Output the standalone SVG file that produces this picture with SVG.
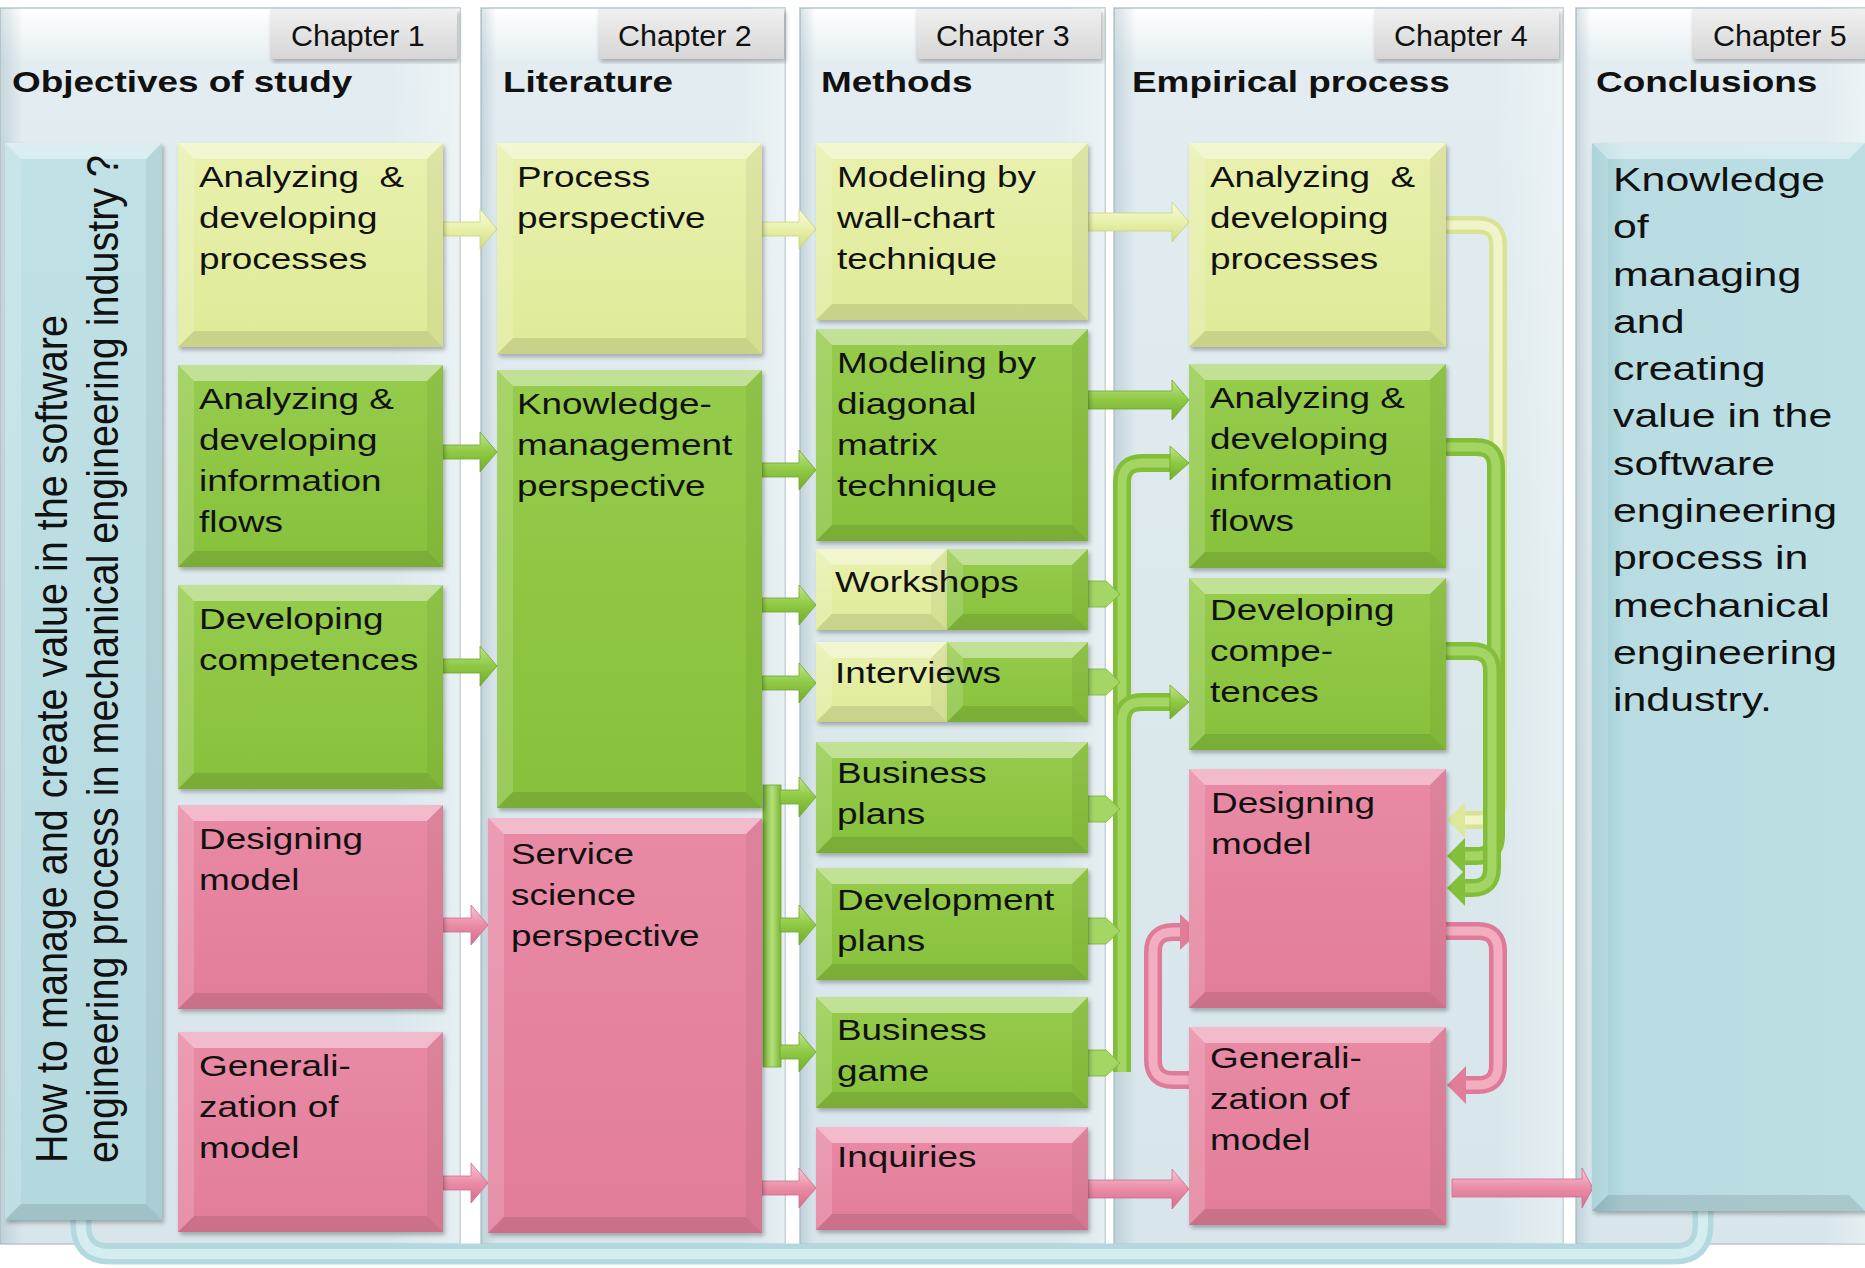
<svg xmlns="http://www.w3.org/2000/svg" width="1865" height="1268" viewBox="0 0 1865 1268">
<defs>
  <linearGradient id="gpan" x1="0" y1="0" x2="0" y2="1">
    <stop offset="0" stop-color="#ffffff"/>
    <stop offset="0.045" stop-color="#e3edf1"/>
    <stop offset="0.5" stop-color="#dbe8ec"/>
    <stop offset="1" stop-color="#d8e6eb"/>
  </linearGradient>
  <linearGradient id="gpanh" x1="0" y1="0" x2="1" y2="0">
    <stop offset="0" stop-color="#8fa9b3" stop-opacity="0.35"/>
    <stop offset="0.05" stop-color="#8fa9b3" stop-opacity="0"/>
    <stop offset="0.85" stop-color="#ffffff" stop-opacity="0"/>
    <stop offset="1" stop-color="#ffffff" stop-opacity="0.35"/>
  </linearGradient>
  <linearGradient id="gtab" x1="0" y1="0" x2="0" y2="1">
    <stop offset="0" stop-color="#f0f0f0"/>
    <stop offset="1" stop-color="#d6d6d6"/>
  </linearGradient>
  <linearGradient id="gy" x1="0" y1="0" x2="0" y2="1">
    <stop offset="0" stop-color="#e9f1ae"/>
    <stop offset="1" stop-color="#dfea98"/>
  </linearGradient>
  <linearGradient id="gg" x1="0" y1="0" x2="0" y2="1">
    <stop offset="0" stop-color="#96cc4c"/>
    <stop offset="1" stop-color="#87c13b"/>
  </linearGradient>
  <linearGradient id="gp" x1="0" y1="0" x2="0" y2="1">
    <stop offset="0" stop-color="#e98aa5"/>
    <stop offset="1" stop-color="#e27d99"/>
  </linearGradient>
  <linearGradient id="gt" x1="0" y1="0" x2="0" y2="1">
    <stop offset="0" stop-color="#c0e1e6"/>
    <stop offset="1" stop-color="#b3d8de"/>
  </linearGradient>
  <linearGradient id="gt5" x1="0" y1="0" x2="1" y2="0">
    <stop offset="0" stop-color="#9ccbd2"/>
    <stop offset="0.12" stop-color="#b8dce1"/>
    <stop offset="1" stop-color="#bcdfe4"/>
  </linearGradient>
  <linearGradient id="ay" x1="0" y1="0" x2="0" y2="1">
    <stop offset="0" stop-color="#f7fadb"/>
    <stop offset="0.5" stop-color="#e9f1ac"/>
    <stop offset="1" stop-color="#cfda7f"/>
  </linearGradient>
  <linearGradient id="ag" x1="0" y1="0" x2="0" y2="1">
    <stop offset="0" stop-color="#bfe58a"/>
    <stop offset="0.5" stop-color="#8fc944"/>
    <stop offset="1" stop-color="#73ab2f"/>
  </linearGradient>
  <linearGradient id="agh" x1="0" y1="0" x2="1" y2="0">
    <stop offset="0" stop-color="#73ab2f"/>
    <stop offset="0.5" stop-color="#b5e07c"/>
    <stop offset="1" stop-color="#7db636"/>
  </linearGradient>
  <linearGradient id="ap" x1="0" y1="0" x2="0" y2="1">
    <stop offset="0" stop-color="#f9c6d4"/>
    <stop offset="0.5" stop-color="#ea8ca7"/>
    <stop offset="1" stop-color="#d46e8b"/>
  </linearGradient>
  <filter id="sh" x="-5%" y="-5%" width="115%" height="115%">
    <feDropShadow dx="2" dy="3" stdDeviation="2" flood-color="#000" flood-opacity="0.28"/>
  </filter>
  <style>
    .pan{fill:url(#gpan);stroke:#b8c8ce;stroke-width:1.5}
    .panh{fill:url(#gpanh)}
    .tab{fill:url(#gtab);filter:url(#sh)}
    .by{fill:url(#gy)} .bg{fill:url(#gg)} .bp{fill:url(#gp)} .bt{fill:url(#gt)} .bt5{fill:url(#gt5)}
    .box{filter:url(#sh)}
    .vt{fill:#fff;opacity:.42} .vl{fill:#fff;opacity:.16} .vr{fill:#000;opacity:.05} .vb{fill:#000;opacity:.1}
    .lb{font-family:"Liberation Sans",Arial,sans-serif;font-size:30px;fill:#111}
    .hd{font-family:"Liberation Sans",Arial,sans-serif;font-size:30px;font-weight:bold;fill:#111}
    .ch{font-family:"Liberation Sans",Arial,sans-serif;font-size:29px;fill:#111}
    .cn{font-family:"Liberation Sans",Arial,sans-serif;font-size:33.5px;fill:#111}
    .q{font-family:"Liberation Sans",Arial,sans-serif;font-size:36px;fill:#111}
    .pre{white-space:pre}
    .ay{fill:url(#ay);stroke:#c9d47c;stroke-width:.8}
    .ag{fill:url(#ag);stroke:#6fa52d;stroke-width:.8}
    .ap{fill:url(#ap);stroke:#d06c89;stroke-width:.8}
    .ly{fill:none;stroke:#d8e493;stroke-width:18}
    .lyh{fill:none;stroke:#eff5c8;stroke-width:9}
    .lg{fill:none;stroke:#82be39;stroke-width:18}
    .lgh{fill:none;stroke:#a3d564;stroke-width:9}
    .lp{fill:none;stroke:#df7b98;stroke-width:18}
    .lph{fill:none;stroke:#f2adc0;stroke-width:9}
    .lt{fill:none;stroke:#b3d9df;stroke-width:21}
    .lth{fill:none;stroke:#d4edf0;stroke-width:10}
    .hy{fill:#dde89a} .hg{fill:#84bf3b} .hp{fill:#e07d99} .ht{fill:#b3d9df}
    .stub{fill:#a3d664;stroke:#79b234;stroke-width:.8}
  </style>
</defs>

<rect width="1865" height="1268" fill="#ffffff"/>

<!-- chapter panels -->
<g id="panels">
  <rect class="pan" x="0" y="8" width="460" height="1236"/>
  <rect class="panh" x="0" y="8" width="460" height="1236"/>
  <rect class="pan" x="481" y="8" width="304" height="1236"/>
  <rect class="panh" x="481" y="8" width="304" height="1236"/>
  <rect class="pan" x="800" y="8" width="305" height="1236"/>
  <rect class="panh" x="800" y="8" width="305" height="1236"/>
  <rect class="pan" x="1114" y="8" width="449" height="1236"/>
  <rect class="panh" x="1114" y="8" width="449" height="1236"/>
  <rect class="pan" x="1576" y="8" width="292" height="1236"/>
  <rect class="panh" x="1576" y="8" width="292" height="1236"/>
</g>

<!-- chapter tabs and column headings -->
<g id="headers">
  <rect class="tab" x="270" y="9" width="187" height="50"/>
  <rect class="tab" x="598" y="9" width="186" height="50"/>
  <rect class="tab" x="916" y="9" width="185" height="50"/>
  <rect class="tab" x="1374" y="9" width="185" height="50"/>
  <rect class="tab" x="1692" y="9" width="176" height="50"/>
  <text class="ch" transform="matrix(1.05 0 0 1 291 46)">Chapter 1</text>
  <text class="ch" transform="matrix(1.05 0 0 1 618 46)">Chapter 2</text>
  <text class="ch" transform="matrix(1.05 0 0 1 936 46)">Chapter 3</text>
  <text class="ch" transform="matrix(1.05 0 0 1 1394 46)">Chapter 4</text>
  <text class="ch" transform="matrix(1.05 0 0 1 1713 46)">Chapter 5</text>
  <text class="hd" transform="matrix(1.23 0 0 1 12 92)">Objectives of study</text>
  <text class="hd" transform="matrix(1.23 0 0 1 503 92)">Literature</text>
  <text class="hd" transform="matrix(1.23 0 0 1 821 92)">Methods</text>
  <text class="hd" transform="matrix(1.23 0 0 1 1132 92)">Empirical process</text>
  <text class="hd" transform="matrix(1.23 0 0 1 1596 92)">Conclusions</text>
</g>

<!-- connectors -->
<g id="connectors">
  <!-- return arrow along the bottom -->
  <path class="lt" d="M1703,1206 V1225 Q1703,1254 1674,1254 H110 Q81,1254 81,1225 V1212"/>
  <path class="lth" d="M1703,1206 V1225 Q1703,1254 1674,1254 H110 Q81,1254 81,1225 V1212"/>
  <polygon class="ht" points="56,1218 81,1192 106,1218"/>

  <!-- chapter 1 to chapter 2 -->
  <polygon class="ay" points="443,222 480,222 480,209 497,229 480,249 480,236 443,236"/>
  <polygon class="ag" points="443,445 480,445 480,432 497,452 480,472 480,459 443,459"/>
  <polygon class="ag" points="443,659 480,659 480,646 497,666 480,686 480,673 443,673"/>
  <polygon class="ap" points="443,918 471,918 471,905 488,925 471,945 471,932 443,932"/>
  <polygon class="ap" points="443,1176 471,1176 471,1163 488,1183 471,1203 471,1190 443,1190"/>

  <!-- chapter 2 to chapter 3 -->
  <polygon class="ay" points="762,222 799,222 799,209 816,229 799,249 799,236 762,236"/>
  <polygon class="ag" points="762,463 799,463 799,450 816,470 799,490 799,477 762,477"/>
  <polygon class="ag" points="762,598 799,598 799,585 816,605 799,625 799,612 762,612"/>
  <polygon class="ag" points="762,676 799,676 799,663 816,683 799,703 799,690 762,690"/>
  <rect x="763" y="785" width="18" height="282" fill="url(#agh)" stroke="#6fa52d" stroke-width=".8"/>
  <polygon class="ag" points="780,790 799,790 799,777 816,797 799,817 799,804 780,804"/>
  <polygon class="ag" points="780,918 799,918 799,905 816,925 799,945 799,932 780,932"/>
  <polygon class="ag" points="780,1045 799,1045 799,1032 816,1052 799,1072 799,1059 780,1059"/>
  <polygon class="ap" points="762,1181 799,1181 799,1168 816,1188 799,1208 799,1195 762,1195"/>

  <!-- chapter 3 to chapter 4 -->
  <polygon class="ay" points="1088,213 1172,213 1172,202 1189,222 1172,242 1172,231 1088,231"/>
  <polygon class="ag" points="1088,391 1172,391 1172,380 1189,400 1172,420 1172,409 1088,409"/>
  <path class="lg" d="M1122,1072 V483 Q1122,463 1142,463 H1174"/>
  <path class="lgh" d="M1122,1072 V483 Q1122,463 1142,463 H1174"/>
  <path class="lg" d="M1122,722 Q1122,702 1142,702 H1174"/>
  <path class="lgh" d="M1122,722 Q1122,702 1142,702 H1174"/>
  <polygon class="ag" points="1170,446 1189,463 1170,480"/>
  <polygon class="ag" points="1170,685 1189,702 1170,719"/>
  <polygon class="stub" points="1088,581 1106,581 1120,594 1106,607 1088,607"/>
  <polygon class="stub" points="1088,669 1106,669 1120,682 1106,695 1088,695"/>
  <polygon class="stub" points="1088,796 1106,796 1120,809 1106,822 1088,822"/>
  <polygon class="stub" points="1088,918 1106,918 1120,931 1106,944 1088,944"/>
  <polygon class="stub" points="1088,1050 1106,1050 1120,1063 1106,1076 1088,1076"/>
  <polygon class="ap" points="1088,1180 1172,1180 1172,1169 1189,1189 1172,1209 1172,1198 1088,1198"/>

  <!-- loops inside chapter 4 -->
  <path class="ly" d="M1446,225 H1478 Q1498,225 1498,245 V800 Q1498,820 1478,820 H1462"/>
  <path class="lyh" d="M1446,225 H1478 Q1498,225 1498,245 V800 Q1498,820 1478,820 H1462"/>
  <polygon class="hy" points="1465,802 1447,820 1465,838"/>
  <path class="lg" d="M1446,447 H1476 Q1496,447 1496,467 V836 Q1496,856 1476,856 H1462"/>
  <path class="lgh" d="M1446,447 H1476 Q1496,447 1496,467 V836 Q1496,856 1476,856 H1462"/>
  <polygon class="hg" points="1465,838 1447,856 1465,874"/>
  <path class="lg" d="M1446,651 H1472 Q1492,651 1492,671 V868 Q1492,888 1472,888 H1462"/>
  <path class="lgh" d="M1446,651 H1472 Q1492,651 1492,671 V868 Q1492,888 1472,888 H1462"/>
  <polygon class="hg" points="1465,870 1447,888 1465,906"/>
  <path class="lp" d="M1446,931 H1478 Q1498,931 1498,951 V1065 Q1498,1085 1478,1085 H1463"/>
  <path class="lph" d="M1446,931 H1478 Q1498,931 1498,951 V1065 Q1498,1085 1478,1085 H1463"/>
  <polygon class="hp" points="1466,1066 1447,1085 1466,1104"/>
  <path class="lp" d="M1189,1080 H1173 Q1153,1080 1153,1060 V952 Q1153,932 1173,932 H1183"/>
  <path class="lph" d="M1189,1080 H1173 Q1153,1080 1153,1060 V952 Q1153,932 1173,932 H1183"/>
  <polygon class="hp" points="1180,914 1199,932 1180,950"/>

  <!-- chapter 4 to chapter 5 -->
  <polygon class="ap" points="1452,1179 1582,1179 1582,1168 1593,1188 1582,1208 1582,1197 1452,1197"/>
</g>

<!-- research question -->
<g id="question">
  <rect class="bt box" x="5" y="143" width="157" height="1077"/>
  <path class="vt" d="M5,143h157l-16,16h-125z"/>
  <path class="vl" d="M5,143l16,16v1045l-16,16z"/>
  <path class="vr" d="M162,143v1077l-16,-16v-1045z"/>
  <path class="vb" d="M5,1220l16,-16h125l16,16z"/>
  <text class="q" transform="translate(67,1163) scale(1.24,1) rotate(-90)" textLength="848" lengthAdjust="spacingAndGlyphs">How to manage and create value in the software</text>
  <text class="q" transform="translate(118,1163) scale(1.24,1) rotate(-90)" textLength="1008" lengthAdjust="spacingAndGlyphs">engineering process in mechanical engineering industry ?</text>
</g>

<!-- chapter 1: objectives -->
<g id="c1-processes">
  <rect class="by box" x="178" y="143" width="265" height="204"/>
  <path class="vt" d="M178,143h265l-16,16h-233z"/>
  <path class="vl" d="M178,143l16,16v172l-16,16z"/>
  <path class="vr" d="M443,143v204l-16,-16v-172z"/>
  <path class="vb" d="M178,347l16,-16h233l16,16z"/>
  <text class="lb pre" transform="matrix(1.23 0 0 1 199 187)"><tspan x="0" y="0">Analyzing  &amp;</tspan><tspan x="0" y="41">developing</tspan><tspan x="0" y="82">processes</tspan></text>
</g>
<g id="c1-information">
  <rect class="bg box" x="178" y="365" width="265" height="202"/>
  <path class="vt" d="M178,365h265l-16,16h-233z"/>
  <path class="vl" d="M178,365l16,16v170l-16,16z"/>
  <path class="vr" d="M443,365v202l-16,-16v-170z"/>
  <path class="vb" d="M178,567l16,-16h233l16,16z"/>
  <text class="lb" transform="matrix(1.23 0 0 1 199 409)"><tspan x="0" y="0">Analyzing &amp;</tspan><tspan x="0" y="41">developing</tspan><tspan x="0" y="82">information</tspan><tspan x="0" y="123">flows</tspan></text>
</g>
<g id="c1-competences">
  <rect class="bg box" x="178" y="585" width="265" height="204"/>
  <path class="vt" d="M178,585h265l-16,16h-233z"/>
  <path class="vl" d="M178,585l16,16v172l-16,16z"/>
  <path class="vr" d="M443,585v204l-16,-16v-172z"/>
  <path class="vb" d="M178,789l16,-16h233l16,16z"/>
  <text class="lb" transform="matrix(1.23 0 0 1 199 629)"><tspan x="0" y="0">Developing</tspan><tspan x="0" y="41">competences</tspan></text>
</g>
<g id="c1-designing">
  <rect class="bp box" x="178" y="805" width="265" height="204"/>
  <path class="vt" d="M178,805h265l-16,16h-233z"/>
  <path class="vl" d="M178,805l16,16v172l-16,16z"/>
  <path class="vr" d="M443,805v204l-16,-16v-172z"/>
  <path class="vb" d="M178,1009l16,-16h233l16,16z"/>
  <text class="lb" transform="matrix(1.23 0 0 1 199 849)"><tspan x="0" y="0">Designing</tspan><tspan x="0" y="41">model</tspan></text>
</g>
<g id="c1-generalization">
  <rect class="bp box" x="178" y="1032" width="265" height="200"/>
  <path class="vt" d="M178,1032h265l-16,16h-233z"/>
  <path class="vl" d="M178,1032l16,16v168l-16,16z"/>
  <path class="vr" d="M443,1032v200l-16,-16v-168z"/>
  <path class="vb" d="M178,1232l16,-16h233l16,16z"/>
  <text class="lb" transform="matrix(1.23 0 0 1 199 1076)"><tspan x="0" y="0">Generali-</tspan><tspan x="0" y="41">zation of</tspan><tspan x="0" y="82">model</tspan></text>
</g>

<!-- chapter 2: literature -->
<g id="c2-process">
  <rect class="by box" x="497" y="143" width="265" height="211"/>
  <path class="vt" d="M497,143h265l-16,16h-233z"/>
  <path class="vl" d="M497,143l16,16v179l-16,16z"/>
  <path class="vr" d="M762,143v211l-16,-16v-179z"/>
  <path class="vb" d="M497,354l16,-16h233l16,16z"/>
  <text class="lb" transform="matrix(1.23 0 0 1 517 187)"><tspan x="0" y="0">Process</tspan><tspan x="0" y="41">perspective</tspan></text>
</g>
<g id="c2-knowledge">
  <rect class="bg box" x="497" y="370" width="265" height="438"/>
  <path class="vt" d="M497,370h265l-16,16h-233z"/>
  <path class="vl" d="M497,370l16,16v406l-16,16z"/>
  <path class="vr" d="M762,370v438l-16,-16v-406z"/>
  <path class="vb" d="M497,808l16,-16h233l16,16z"/>
  <text class="lb" transform="matrix(1.23 0 0 1 517 414)"><tspan x="0" y="0">Knowledge-</tspan><tspan x="0" y="41">management</tspan><tspan x="0" y="82">perspective</tspan></text>
</g>
<g id="c2-service">
  <rect class="bp box" x="488" y="818" width="274" height="415"/>
  <path class="vt" d="M488,818h274l-16,16h-242z"/>
  <path class="vl" d="M488,818l16,16v383l-16,16z"/>
  <path class="vr" d="M762,818v415l-16,-16v-383z"/>
  <path class="vb" d="M488,1233l16,-16h242l16,16z"/>
  <text class="lb" transform="matrix(1.23 0 0 1 511 864)"><tspan x="0" y="0">Service</tspan><tspan x="0" y="41">science</tspan><tspan x="0" y="82">perspective</tspan></text>
</g>

<!-- chapter 3: methods -->
<g id="c3-wallchart">
  <rect class="by box" x="816" y="143" width="272" height="177"/>
  <path class="vt" d="M816,143h272l-16,16h-240z"/>
  <path class="vl" d="M816,143l16,16v145l-16,16z"/>
  <path class="vr" d="M1088,143v177l-16,-16v-145z"/>
  <path class="vb" d="M816,320l16,-16h240l16,16z"/>
  <text class="lb" transform="matrix(1.23 0 0 1 837 187)"><tspan x="0" y="0">Modeling by</tspan><tspan x="0" y="41">wall-chart</tspan><tspan x="0" y="82">technique</tspan></text>
</g>
<g id="c3-matrix">
  <rect class="bg box" x="816" y="329" width="272" height="212"/>
  <path class="vt" d="M816,329h272l-16,16h-240z"/>
  <path class="vl" d="M816,329l16,16v180l-16,16z"/>
  <path class="vr" d="M1088,329v212l-16,-16v-180z"/>
  <path class="vb" d="M816,541l16,-16h240l16,16z"/>
  <text class="lb" transform="matrix(1.23 0 0 1 837 373)"><tspan x="0" y="0">Modeling by</tspan><tspan x="0" y="41">diagonal</tspan><tspan x="0" y="82">matrix</tspan><tspan x="0" y="123">technique</tspan></text>
</g>
<g id="c3-workshops">
  <rect class="by box" x="816" y="549" width="131" height="81"/>
  <path class="vt" d="M816,549h131l-16,16h-99z"/>
  <path class="vl" d="M816,549l16,16v49l-16,16z"/>
  <path class="vr" d="M947,549v81l-16,-16v-49z"/>
  <path class="vb" d="M816,630l16,-16h99l16,16z"/>
  <rect class="bg box" x="947" y="549" width="141" height="81"/>
  <path class="vt" d="M947,549h141l-16,16h-109z"/>
  <path class="vl" d="M947,549l16,16v49l-16,16z"/>
  <path class="vr" d="M1088,549v81l-16,-16v-49z"/>
  <path class="vb" d="M947,630l16,-16h109l16,16z"/>
  <text class="lb" transform="matrix(1.23 0 0 1 835 592)">Workshops</text>
</g>
<g id="c3-interviews">
  <rect class="by box" x="816" y="642" width="131" height="80"/>
  <path class="vt" d="M816,642h131l-16,16h-99z"/>
  <path class="vl" d="M816,642l16,16v48l-16,16z"/>
  <path class="vr" d="M947,642v80l-16,-16v-48z"/>
  <path class="vb" d="M816,722l16,-16h99l16,16z"/>
  <rect class="bg box" x="947" y="642" width="141" height="80"/>
  <path class="vt" d="M947,642h141l-16,16h-109z"/>
  <path class="vl" d="M947,642l16,16v48l-16,16z"/>
  <path class="vr" d="M1088,642v80l-16,-16v-48z"/>
  <path class="vb" d="M947,722l16,-16h109l16,16z"/>
  <text class="lb" transform="matrix(1.23 0 0 1 835 683)">Interviews</text>
</g>
<g id="c3-business-plans">
  <rect class="bg box" x="816" y="742" width="272" height="111"/>
  <path class="vt" d="M816,742h272l-16,16h-240z"/>
  <path class="vl" d="M816,742l16,16v79l-16,16z"/>
  <path class="vr" d="M1088,742v111l-16,-16v-79z"/>
  <path class="vb" d="M816,853l16,-16h240l16,16z"/>
  <text class="lb" transform="matrix(1.23 0 0 1 837 783)"><tspan x="0" y="0">Business</tspan><tspan x="0" y="41">plans</tspan></text>
</g>
<g id="c3-development-plans">
  <rect class="bg box" x="816" y="868" width="272" height="112"/>
  <path class="vt" d="M816,868h272l-16,16h-240z"/>
  <path class="vl" d="M816,868l16,16v80l-16,16z"/>
  <path class="vr" d="M1088,868v112l-16,-16v-80z"/>
  <path class="vb" d="M816,980l16,-16h240l16,16z"/>
  <text class="lb" transform="matrix(1.23 0 0 1 837 910)"><tspan x="0" y="0">Development</tspan><tspan x="0" y="41">plans</tspan></text>
</g>
<g id="c3-business-game">
  <rect class="bg box" x="816" y="997" width="272" height="111"/>
  <path class="vt" d="M816,997h272l-16,16h-240z"/>
  <path class="vl" d="M816,997l16,16v79l-16,16z"/>
  <path class="vr" d="M1088,997v111l-16,-16v-79z"/>
  <path class="vb" d="M816,1108l16,-16h240l16,16z"/>
  <text class="lb" transform="matrix(1.23 0 0 1 837 1040)"><tspan x="0" y="0">Business</tspan><tspan x="0" y="41">game</tspan></text>
</g>
<g id="c3-inquiries">
  <rect class="bp box" x="816" y="1127" width="272" height="103"/>
  <path class="vt" d="M816,1127h272l-16,16h-240z"/>
  <path class="vl" d="M816,1127l16,16v71l-16,16z"/>
  <path class="vr" d="M1088,1127v103l-16,-16v-71z"/>
  <path class="vb" d="M816,1230l16,-16h240l16,16z"/>
  <text class="lb" transform="matrix(1.23 0 0 1 837 1167)">Inquiries</text>
</g>

<!-- chapter 4: empirical process -->
<g id="c4-processes">
  <rect class="by box" x="1189" y="143" width="257" height="204"/>
  <path class="vt" d="M1189,143h257l-16,16h-225z"/>
  <path class="vl" d="M1189,143l16,16v172l-16,16z"/>
  <path class="vr" d="M1446,143v204l-16,-16v-172z"/>
  <path class="vb" d="M1189,347l16,-16h225l16,16z"/>
  <text class="lb pre" transform="matrix(1.23 0 0 1 1210 187)"><tspan x="0" y="0">Analyzing  &amp;</tspan><tspan x="0" y="41">developing</tspan><tspan x="0" y="82">processes</tspan></text>
</g>
<g id="c4-information">
  <rect class="bg box" x="1189" y="364" width="257" height="204"/>
  <path class="vt" d="M1189,364h257l-16,16h-225z"/>
  <path class="vl" d="M1189,364l16,16v172l-16,16z"/>
  <path class="vr" d="M1446,364v204l-16,-16v-172z"/>
  <path class="vb" d="M1189,568l16,-16h225l16,16z"/>
  <text class="lb" transform="matrix(1.23 0 0 1 1210 408)"><tspan x="0" y="0">Analyzing &amp;</tspan><tspan x="0" y="41">developing</tspan><tspan x="0" y="82">information</tspan><tspan x="0" y="123">flows</tspan></text>
</g>
<g id="c4-competences">
  <rect class="bg box" x="1189" y="578" width="257" height="172"/>
  <path class="vt" d="M1189,578h257l-16,16h-225z"/>
  <path class="vl" d="M1189,578l16,16v140l-16,16z"/>
  <path class="vr" d="M1446,578v172l-16,-16v-140z"/>
  <path class="vb" d="M1189,750l16,-16h225l16,16z"/>
  <text class="lb" transform="matrix(1.23 0 0 1 1210 620)"><tspan x="0" y="0">Developing</tspan><tspan x="0" y="41">compe-</tspan><tspan x="0" y="82">tences</tspan></text>
</g>
<g id="c4-designing">
  <rect class="bp box" x="1189" y="769" width="257" height="239"/>
  <path class="vt" d="M1189,769h257l-16,16h-225z"/>
  <path class="vl" d="M1189,769l16,16v207l-16,16z"/>
  <path class="vr" d="M1446,769v239l-16,-16v-207z"/>
  <path class="vb" d="M1189,1008l16,-16h225l16,16z"/>
  <text class="lb" transform="matrix(1.23 0 0 1 1211 813)"><tspan x="0" y="0">Designing</tspan><tspan x="0" y="41">model</tspan></text>
</g>
<g id="c4-generalization">
  <rect class="bp box" x="1189" y="1027" width="257" height="198"/>
  <path class="vt" d="M1189,1027h257l-16,16h-225z"/>
  <path class="vl" d="M1189,1027l16,16v166l-16,16z"/>
  <path class="vr" d="M1446,1027v198l-16,-16v-166z"/>
  <path class="vb" d="M1189,1225l16,-16h225l16,16z"/>
  <text class="lb" transform="matrix(1.23 0 0 1 1210 1068)"><tspan x="0" y="0">Generali-</tspan><tspan x="0" y="41">zation of</tspan><tspan x="0" y="82">model</tspan></text>
</g>

<!-- chapter 5: conclusions -->
<g id="c5-conclusions">
  <rect class="bt5 box" x="1592" y="143" width="276" height="1068"/>
  <path class="vt" d="M1592,143h273l-16,16h-241z"/>
  <path class="vl" d="M1592,143l16,16v1036l-16,16z"/>
  <path class="vb" d="M1592,1211l16,-16h241l16,16z"/>
  <text class="cn" transform="matrix(1.28 0 0 1 1613 191)"><tspan x="0" y="0">Knowledge</tspan><tspan x="0" y="47.3">of</tspan><tspan x="0" y="94.6">managing</tspan><tspan x="0" y="141.9">and</tspan><tspan x="0" y="189.2">creating</tspan><tspan x="0" y="236.5">value in the</tspan><tspan x="0" y="283.8">software</tspan><tspan x="0" y="331.1">engineering</tspan><tspan x="0" y="378.4">process in</tspan><tspan x="0" y="425.7">mechanical</tspan><tspan x="0" y="473">engineering</tspan><tspan x="0" y="520.3">industry.</tspan></text>
</g>
</svg>
